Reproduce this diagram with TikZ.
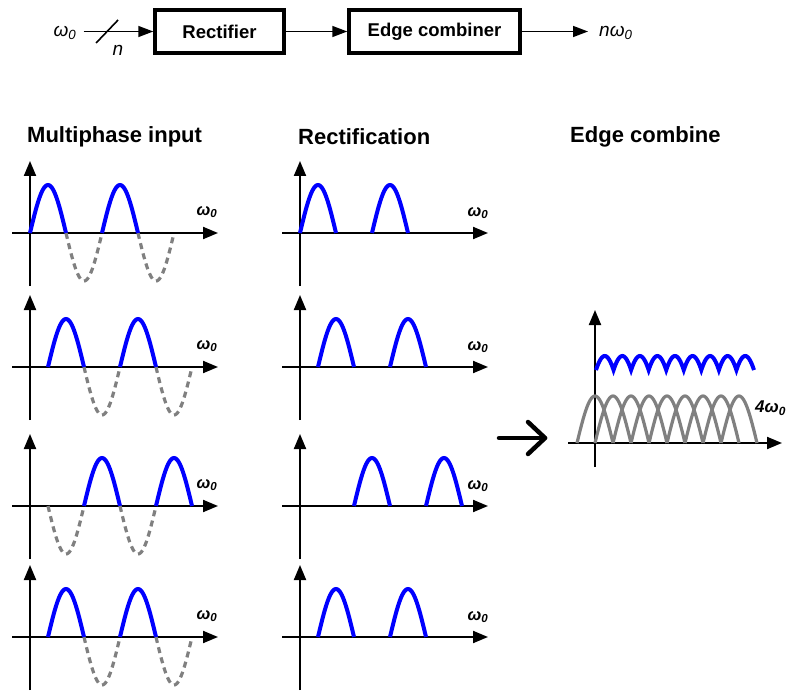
\documentclass[tikz,border=0pt]{standalone}
\usepackage{fontspec}
\setmainfont{Liberation Sans}
\usetikzlibrary{positioning,arrows.meta}
\definecolor{waveblue}{RGB}{0,0,255}
\definecolor{wavegray}{RGB}{128,128,128}

\begin{document}
\begin{tikzpicture}[x=1pt,y=-1pt,
    block/.style={rectangle,draw,line width=3.5pt,minimum width=129pt,minimum height=43pt,font=\fontsize{18.5}{21}\selectfont\bfseries},
    flow/.style={line width=1.6pt,-{Triangle[length=15pt,width=11pt]}},
    axisline/.style={line width=2pt,-{Triangle[length=15pt,width=12pt]}},
    poswave/.style={waveblue,line width=4pt},
    negwave/.style={wavegray,line width=3.2pt,dash pattern=on 6pt off 4.5pt},
    hump/.style={wavegray,line width=3.2pt},
    coltitle/.style={anchor=west,inner sep=0pt,font=\fontsize{22}{25}\selectfont\bfseries},
    toplabel/.style={font=\fontsize{19}{21}\selectfont\itshape,inner sep=1pt},
    wlabel/.style={font=\fontsize{16.5}{18}\selectfont\bfseries\itshape}
    ]
\useasboundingbox (0,0) rectangle (788,698);

% block diagram
\node[toplabel] (win) at (65,33) {ω\textsubscript{0}};
\node[block] (rect) at (219.5,31.5) {Rectifier};
\node[block,minimum width=171pt] (comb) at (434.5,31.5) {Edge combiner};
\node[toplabel,anchor=west] (wout) at (598,33) {nω\textsubscript{0}};
\draw[flow,shorten <=6pt] (win.east |- rect) -- coordinate[pos=0.39] (bus) (rect);
\draw[line width=1.6pt] (bus) ++(-11,11.5) -- ++(22,-23);
\node[toplabel] (nbus) at (118,50) {n};
\draw[flow] (rect) -- (comb);
\draw[flow,shorten >=10pt] (comb.east) -- (comb.east -| wout.west);

% column titles
\node[coltitle] (tin) at (27,137) {Multiphase input};
\node[coltitle] (trect) at (298,137) {Rectification};
\node[coltitle] (tcomb) at (570,137) {Edge combine};

% one row per phase
\foreach \y/\a/\b [count=\i] in {233/30/66, 367/48/84, 506/84/48, 637/48/84}{
  % multiphase input
  \draw[axisline] (12,\y) -- (218,\y);
  \draw[axisline] (30,\y+53) -- (30,\y-72);
  \foreach \s in {0,72}{
    \draw[negwave] plot[domain=0:180,samples=31] ({\b+\s+\x/5},{\y+48*sin(\x)});
    \draw[poswave] plot[domain=0:180,samples=31] ({\a+\s+\x/5},{\y-48*sin(\x)});
  }
  \node[wlabel] (win\i) at (207,\y-21) {ω\textsubscript{0}};
  % rectification
  \draw[axisline] (282,\y) -- (488,\y);
  \draw[axisline] (300,\y+53) -- (300,\y-72);
  \foreach \s in {270,342}
    \draw[poswave] plot[domain=0:180,samples=31] ({\a+\s+\x/5},{\y-48*sin(\x)});
  \node[wlabel] (wrect\i) at (478,\y-20) {ω\textsubscript{0}};
}

% arrow to the combined output
\coordinate (arrA) at (499,438);
\coordinate (arrB) at (545,438);
\draw[line width=4.5pt,line cap=round,line join=round] (arrA) -- (arrB);
\draw[line width=4.5pt,line cap=round,line join=round] ([shift={(-17,-16)}]arrB) -- (arrB) -- ([shift={(-17,16)}]arrB);

% edge combine
\draw[axisline] (568,443) -- (782,443);
\draw[axisline] (595,467) -- (595,310);
\foreach \k in {0,...,8}
  \draw[hump] plot[domain=0:180,samples=31] ({577+18*\k+\x/5},{443-47*sin(\x)});
\draw[poswave] plot[domain=0:810,samples=181] ({596+\x/810*158},{356+48*(1-max(abs(sin(\x+45)),abs(cos(\x+45))))});
\node[wlabel,anchor=west,inner sep=0pt,font=\fontsize{17}{19}\selectfont\bfseries\itshape] (w4) at (755,408) {4ω\textsubscript{0}};
\end{tikzpicture}
\end{document}
